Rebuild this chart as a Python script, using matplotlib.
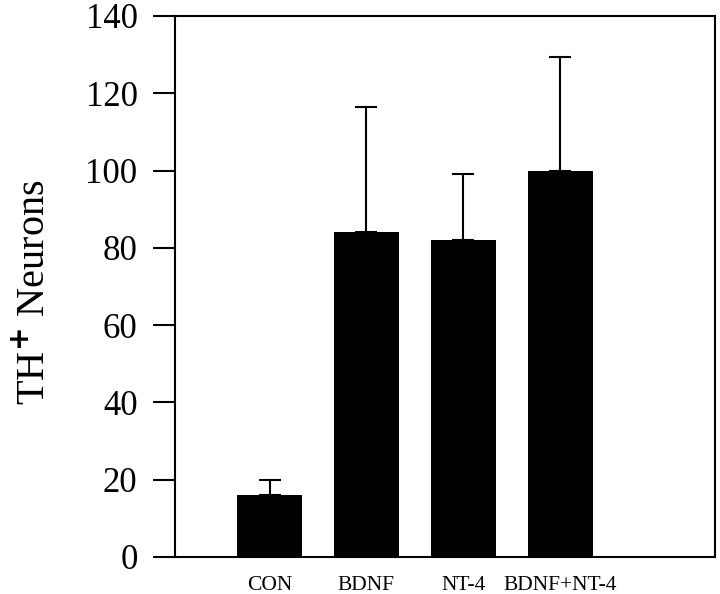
import matplotlib
matplotlib.use("Agg")
import matplotlib.pyplot as plt

groups = ["CON", "BDNF", "NT-4", "BDNF+NT-4"]
means = [16, 84, 82, 100]
errs = [4, 32.4, 17, 29.4]

plt.rcParams['font.family'] = ['Liberation Serif', 'DejaVu Serif']
plt.rcParams['mathtext.fontset'] = 'custom'
plt.rcParams['mathtext.rm'] = 'Liberation Serif'

fig = plt.figure(figsize=(7.2, 5.94), dpi=100)
ax = fig.add_axes([0.2431, 0.0623, 0.75, 0.9108])

pos = [1, 2, 3, 4]
ax.bar(pos, means, width=0.67, color='black', zorder=2)
ax.errorbar(pos, means, yerr=[[0] * 4, errs], fmt='none', ecolor='black',
            elinewidth=1.5, capsize=8, capthick=1.5, zorder=1)

ax.set_xlim(0.024, 5.6)
ax.set_ylim(0, 140)
ax.set_yticks(range(0, 141, 20))
ax.set_xticks(pos)
ax.set_xticklabels(groups, fontsize=15.5)
ax.tick_params(axis='x', length=0, pad=14)
ax.tick_params(axis='y', direction='out', length=16, width=1.5, pad=11, labelsize=25)
for s in ax.spines.values():
    s.set_linewidth(1.5)

ax.set_ylabel(r'TH$^{\mathbf{+}}$ Neurons', fontsize=29)
ax.yaxis.set_label_coords(-0.225, 0.49)

fig.savefig("out.png", dpi=100)
